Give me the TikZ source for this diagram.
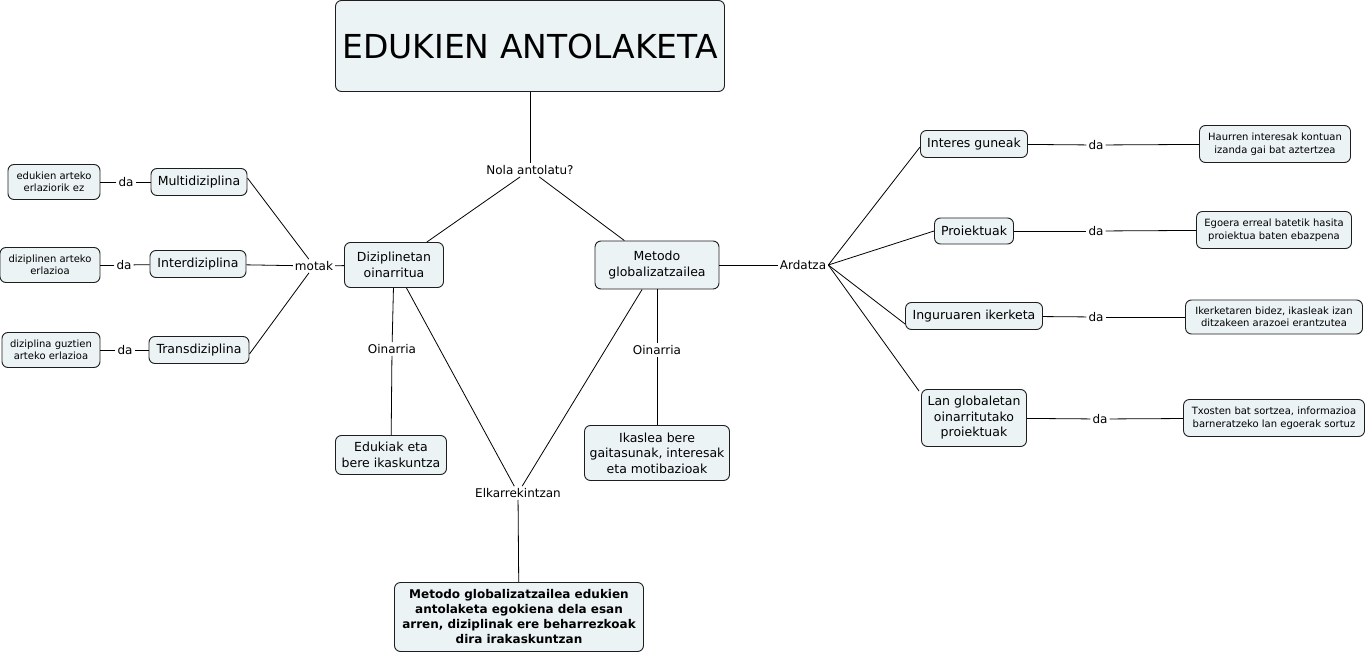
\documentclass[tikz,border=0pt]{standalone}
\usepackage{fontspec}
\setmainfont{DejaVu Sans}
\usetikzlibrary{positioning}
\definecolor{conceptfill}{RGB}{236,243,245}
\definecolor{conceptborder}{RGB}{30,30,30}
\tikzset{
  concept/.style={draw=conceptborder, fill=conceptfill, rounded corners=6pt, line width=0.9pt,
    align=center, inner sep=2pt, font=\fontsize{12.5}{15.5}\selectfont},
  leaf/.style={concept, font=\fontsize{10}{12.5}\selectfont},
  linklabel/.style={inner sep=2pt, font=\fontsize{12}{14}\selectfont},
  link/.style={draw=black, line width=0.8pt}
}

\begin{document}
\begin{tikzpicture}[x=1pt,y=-1pt]
\useasboundingbox (0,0) rectangle (1368,655);

% Main concept and first split
\node[concept, minimum width=389pt, minimum height=91pt, font=\fontsize{33}{40}\selectfont] (title) at (530,46) {EDUKIEN ANTOLAKETA};
\node[linklabel] (nola) at (530,170) {Nola antolatu?};
\node[concept, minimum width=99pt, minimum height=45pt] (dizi) at (394,265) {Diziplinetan\\oinarritua};
\node[concept, minimum width=124pt, minimum height=48pt] (metodo) at (657,265) {Metodo\\globalizatzailea};

% Discipline types on the left
\node[linklabel] (motak) at (314,266) {motak};
\node[concept, minimum width=96pt, minimum height=27pt] (multi) at (199,182) {Multidiziplina};
\node[concept, minimum width=96pt, minimum height=27pt] (inter) at (198,264) {Interdiziplina};
\node[concept, minimum width=100pt, minimum height=27pt] (trans) at (199,350) {Transdiziplina};
\node[linklabel] (damulti) at (126,182) {da};
\node[linklabel] (dainter) at (124,265) {da};
\node[linklabel] (datrans) at (125,350) {da};
\node[leaf, minimum width=92pt, minimum height=35pt] (multidef) at (54,182) {edukien arteko\\erlaziorik ez};
\node[leaf, minimum width=100pt, minimum height=35pt] (interdef) at (50,265) {diziplinen arteko\\erlazioa};
\node[leaf, minimum width=98pt, minimum height=35pt] (transdef) at (51,350) {diziplina guztien\\arteko erlazioa};

% Foundations and the meeting point
\node[linklabel] (oinleft) at (392,349) {Oinarria};
\node[linklabel] (oinright) at (657,350) {Oinarria};
\node[concept, minimum width=111pt, minimum height=39pt] (edukiak) at (391,455) {Edukiak eta\\bere ikaskuntza};
\node[concept, minimum width=145pt, minimum height=55pt] (ikaslea) at (657,453) {Ikaslea bere\\gaitasunak, interesak\\eta motibazioak};
\node[linklabel] (elkar) at (518,493) {Elkarrekintzan};
\node[concept, minimum width=249pt, minimum height=69pt, font=\bfseries\fontsize{12}{15}\selectfont] (ondorioa) at (519,617) {Metodo globalizatzailea edukien\\antolaketa egokiena dela esan\\arren, diziplinak ere beharrezkoak\\dira irakaskuntzan};

% Axes of the global method on the right
\node[linklabel] (ardatza) at (803,265) {Ardatza};
\node[concept, minimum width=107pt, minimum height=27pt] (interes) at (974,144) {Interes guneak};
\node[concept, minimum width=79pt, minimum height=26pt] (proiekt) at (974,231) {Proiektuak};
\node[concept, minimum width=137pt, minimum height=27pt] (ingurua) at (974,316) {Inguruaren ikerketa};
\node[concept, minimum width=105pt, minimum height=57pt] (langlob) at (974,418) {Lan globaletan\\oinarritutako\\proiektuak};
\node[linklabel] (dainteres) at (1096,145) {da};
\node[linklabel] (daproiekt) at (1096,231) {da};
\node[linklabel] (daingurua) at (1096,317) {da};
\node[linklabel] (dalanglob) at (1100,419) {da};
\node[leaf, minimum width=151pt, minimum height=37pt] (interesdef) at (1275,144) {Haurren interesak kontuan\\izanda gai bat aztertzea};
\node[leaf, minimum width=155pt, minimum height=37pt] (proiektdef) at (1274,230) {Egoera erreal batetik hasita\\proiektua baten ebazpena};
\node[leaf, minimum width=177pt, minimum height=34pt] (inguruadef) at (1274,317) {Ikerketaren bidez, ikasleak izan\\ditzakeen arazoei erantzutea};
\node[leaf, minimum width=181pt, minimum height=37pt] (langlobdef) at (1274,418) {Txosten bat sortzea, informazioa\\barneratzeko lan egoerak sortuz};

% Connectors
\draw[link] (title) -- (nola);
\draw[link] (nola) -- (dizi);
\draw[link] (nola) -- (metodo);
\draw[link] (dizi) -- (motak);
\draw[link] (motak) -- ([yshift=4pt]multi.east);
\draw[link] (motak) -- (inter);
\draw[link] (motak) -- ([yshift=-4pt]trans.east);
\draw[link] (multi) -- (damulti);
\draw[link] (damulti) -- (multidef);
\draw[link] (inter) -- (dainter);
\draw[link] (dainter) -- (interdef);
\draw[link] (trans) -- (datrans);
\draw[link] (datrans) -- (transdef);
\draw[link] (dizi) -- (oinleft);
\draw[link] (oinleft) -- (edukiak);
\draw[link] (metodo) -- (oinright);
\draw[link] (oinright) -- (ikaslea);
\draw[link] (dizi) -- (elkar);
\draw[link] (metodo) -- (elkar);
\draw[link] (elkar) -- (ondorioa);
\draw[link] (metodo) -- (ardatza);
\draw[link] (ardatza.east) -- ([yshift=-3pt]interes.west);
\draw[link] (ardatza.east) -- (proiekt.west);
\draw[link] (ardatza.east) -- ([yshift=-8pt]ingurua.west);
\draw[link] (ardatza.east) -- ([xshift=-2pt,yshift=-2pt]langlob.north west);
\draw[link] (interes) -- (dainteres);
\draw[link] (dainteres) -- (interesdef);
\draw[link] (proiekt) -- (daproiekt);
\draw[link] (daproiekt) -- (proiektdef);
\draw[link] (ingurua) -- (daingurua);
\draw[link] (daingurua) -- (inguruadef);
\draw[link] (langlob) -- (dalanglob);
\draw[link] (dalanglob) -- (langlobdef);

\end{tikzpicture}
\end{document}
